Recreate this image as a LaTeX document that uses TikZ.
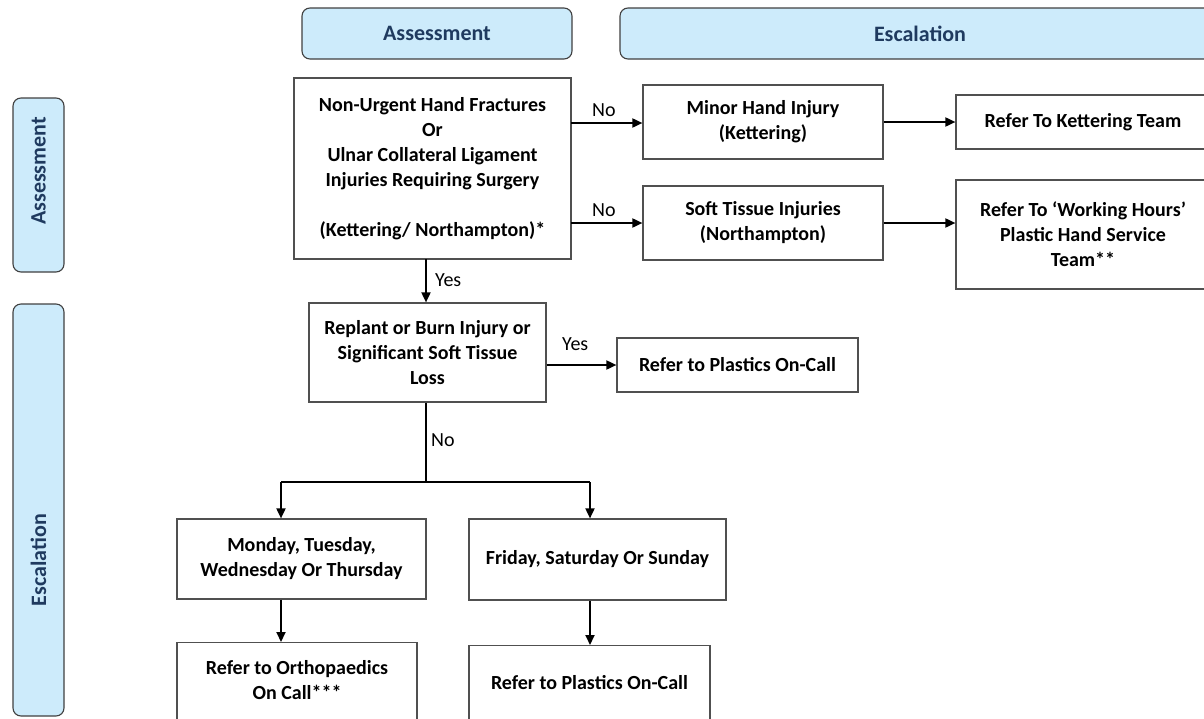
\documentclass[tikz,border=0pt]{standalone}
\usepackage{fontspec}
\setmainfont{Carlito}
\usetikzlibrary{arrows.meta}
\definecolor{hdrfill}{HTML}{CDEBFB}
\definecolor{hdrtext}{HTML}{1F3A5F}
\definecolor{boxline}{HTML}{505050}
\tikzset{
  hdr/.style={draw=black!75, line width=1.1pt, fill=hdrfill, rounded corners=8pt, inner sep=0pt},
  hdrlbl/.style={text=hdrtext, font=\bfseries\fontsize{22}{26}\selectfont, inner sep=0pt},
  box/.style={draw=boxline, line width=1.2pt, align=center, inner sep=0pt, font=\bfseries\fontsize{20}{25}\selectfont},
  boxtext/.style={font=\bfseries\fontsize{20}{25}\selectfont, align=center, inner sep=0pt},
  arr/.style={line width=1.8pt, -{Triangle[length=10pt,width=9pt]}},
  ln/.style={line width=1.8pt},
  lbl/.style={font=\fontsize{20}{25}\selectfont, inner sep=0pt, anchor=west}
}
\begin{document}
\begin{tikzpicture}[x=1pt,y=-1pt]
\useasboundingbox (0,0) rectangle (1204,718);
% headers
\node[hdr, minimum width=270pt, minimum height=51pt] (hA) at (437,33.5) {};
\node[hdrlbl] (hAt) at (hA.center) {Assessment};
\node[hdr, minimum width=600pt, minimum height=51pt] (hE) at (920,33.5) {};
\node[hdrlbl] (hEt) at (hE.center) {Escalation};
% side bars
\node[hdr, minimum width=51pt, minimum height=174pt] (bA) at (38.5,185) {};
\node[hdrlbl, rotate=90] (bAt) at (38.5,171) {Assessment};
\node[hdr, minimum width=51pt, minimum height=412pt] (bE) at (38.5,510) {};
\node[hdrlbl, rotate=90] (bEt) at (38.5,560) {Escalation};
% boxes
\node[box, minimum width=277pt, minimum height=181pt] (main) at (432.5,168.5)
  {Non-Urgent Hand Fractures\\Or\\Ulnar Collateral Ligament\\Injuries Requiring Surgery\\[25pt](Kettering/ Northampton)*};
\node[box, minimum width=240pt, minimum height=74pt] (minor) at (763,122) {Minor Hand Injury\\(Kettering)};
\node[box, minimum width=254pt, minimum height=54pt] (kett) at (1083,122) {Refer To Kettering Team};
\node[box, minimum width=240pt, minimum height=74pt] (soft) at (763,223) {Soft Tissue Injuries\\(Northampton)};
\node[box, minimum width=254pt, minimum height=109pt] (work) at (1083,234.5) {Refer To ‘Working Hours’\\Plastic Hand Service\\Team**};
\node[box, minimum width=237pt, minimum height=99pt] (replant) at (427.5,352.5) {Replant or Burn Injury or\\Significant Soft Tissue\\Loss};
\node[box, minimum width=241pt, minimum height=54pt] (plast1) at (737.5,365) {Refer to Plastics On-Call};
\node[box, minimum width=249pt, minimum height=80pt] (mon) at (301.5,559) {Monday, Tuesday,\\Wednesday Or Thursday};
\node[box, minimum width=257pt, minimum height=81pt] (fri) at (597.5,559.5) {Friday, Saturday Or Sunday};
\node[box, minimum width=240pt, minimum height=78pt, anchor=north] (ortho) at (297,642) {};
\node[boxtext] (orthot) at (297,680) {Refer to Orthopaedics\\On Call***};
\node[box, minimum width=241pt, minimum height=75pt, anchor=north] (plast2) at (589.5,645) {};
\node[boxtext] (plast2t) at (589.5,683) {Refer to Plastics On-Call};
% connectors
\coordinate (n1) at (571,123);
\coordinate (n2) at (571,223);
\draw[arr] (n1) -- (n1 -| minor.west);
\node[lbl] (no1) at (592,110) {No};
\draw[arr] (n2) -- (n2 -| soft.west);
\node[lbl] (no2) at (592,210) {No};
\draw[arr] (minor.east) -- (minor.east -| kett.west);
\draw[arr] (soft.east) -- (soft.east -| work.west);
\coordinate (y1) at (426,259);
\draw[arr] (y1) -- (y1 |- replant.north);
\node[lbl] (yes1) at (435,280) {Yes};
\draw[arr] (replant.east |- plast1.west) -- (plast1.west);
\node[lbl] (yes2) at (562,344) {Yes};
\coordinate (split) at (426,482);
\coordinate (jl) at (281,482);
\coordinate (jr) at (590,482);
\draw[ln] (split |- replant.south) -- (split);
\node[lbl] (no3) at (431,440) {No};
\draw[ln] (jl) -- (jr);
\draw[arr] (jl) -- (jl |- mon.north);
\draw[arr] (jr) -- (jr |- fri.north);
\draw[arr] (jl |- mon.south) -- (jl |- ortho.north);
\draw[arr] (jr |- fri.south) -- (jr |- plast2.north);
\end{tikzpicture}
\end{document}
